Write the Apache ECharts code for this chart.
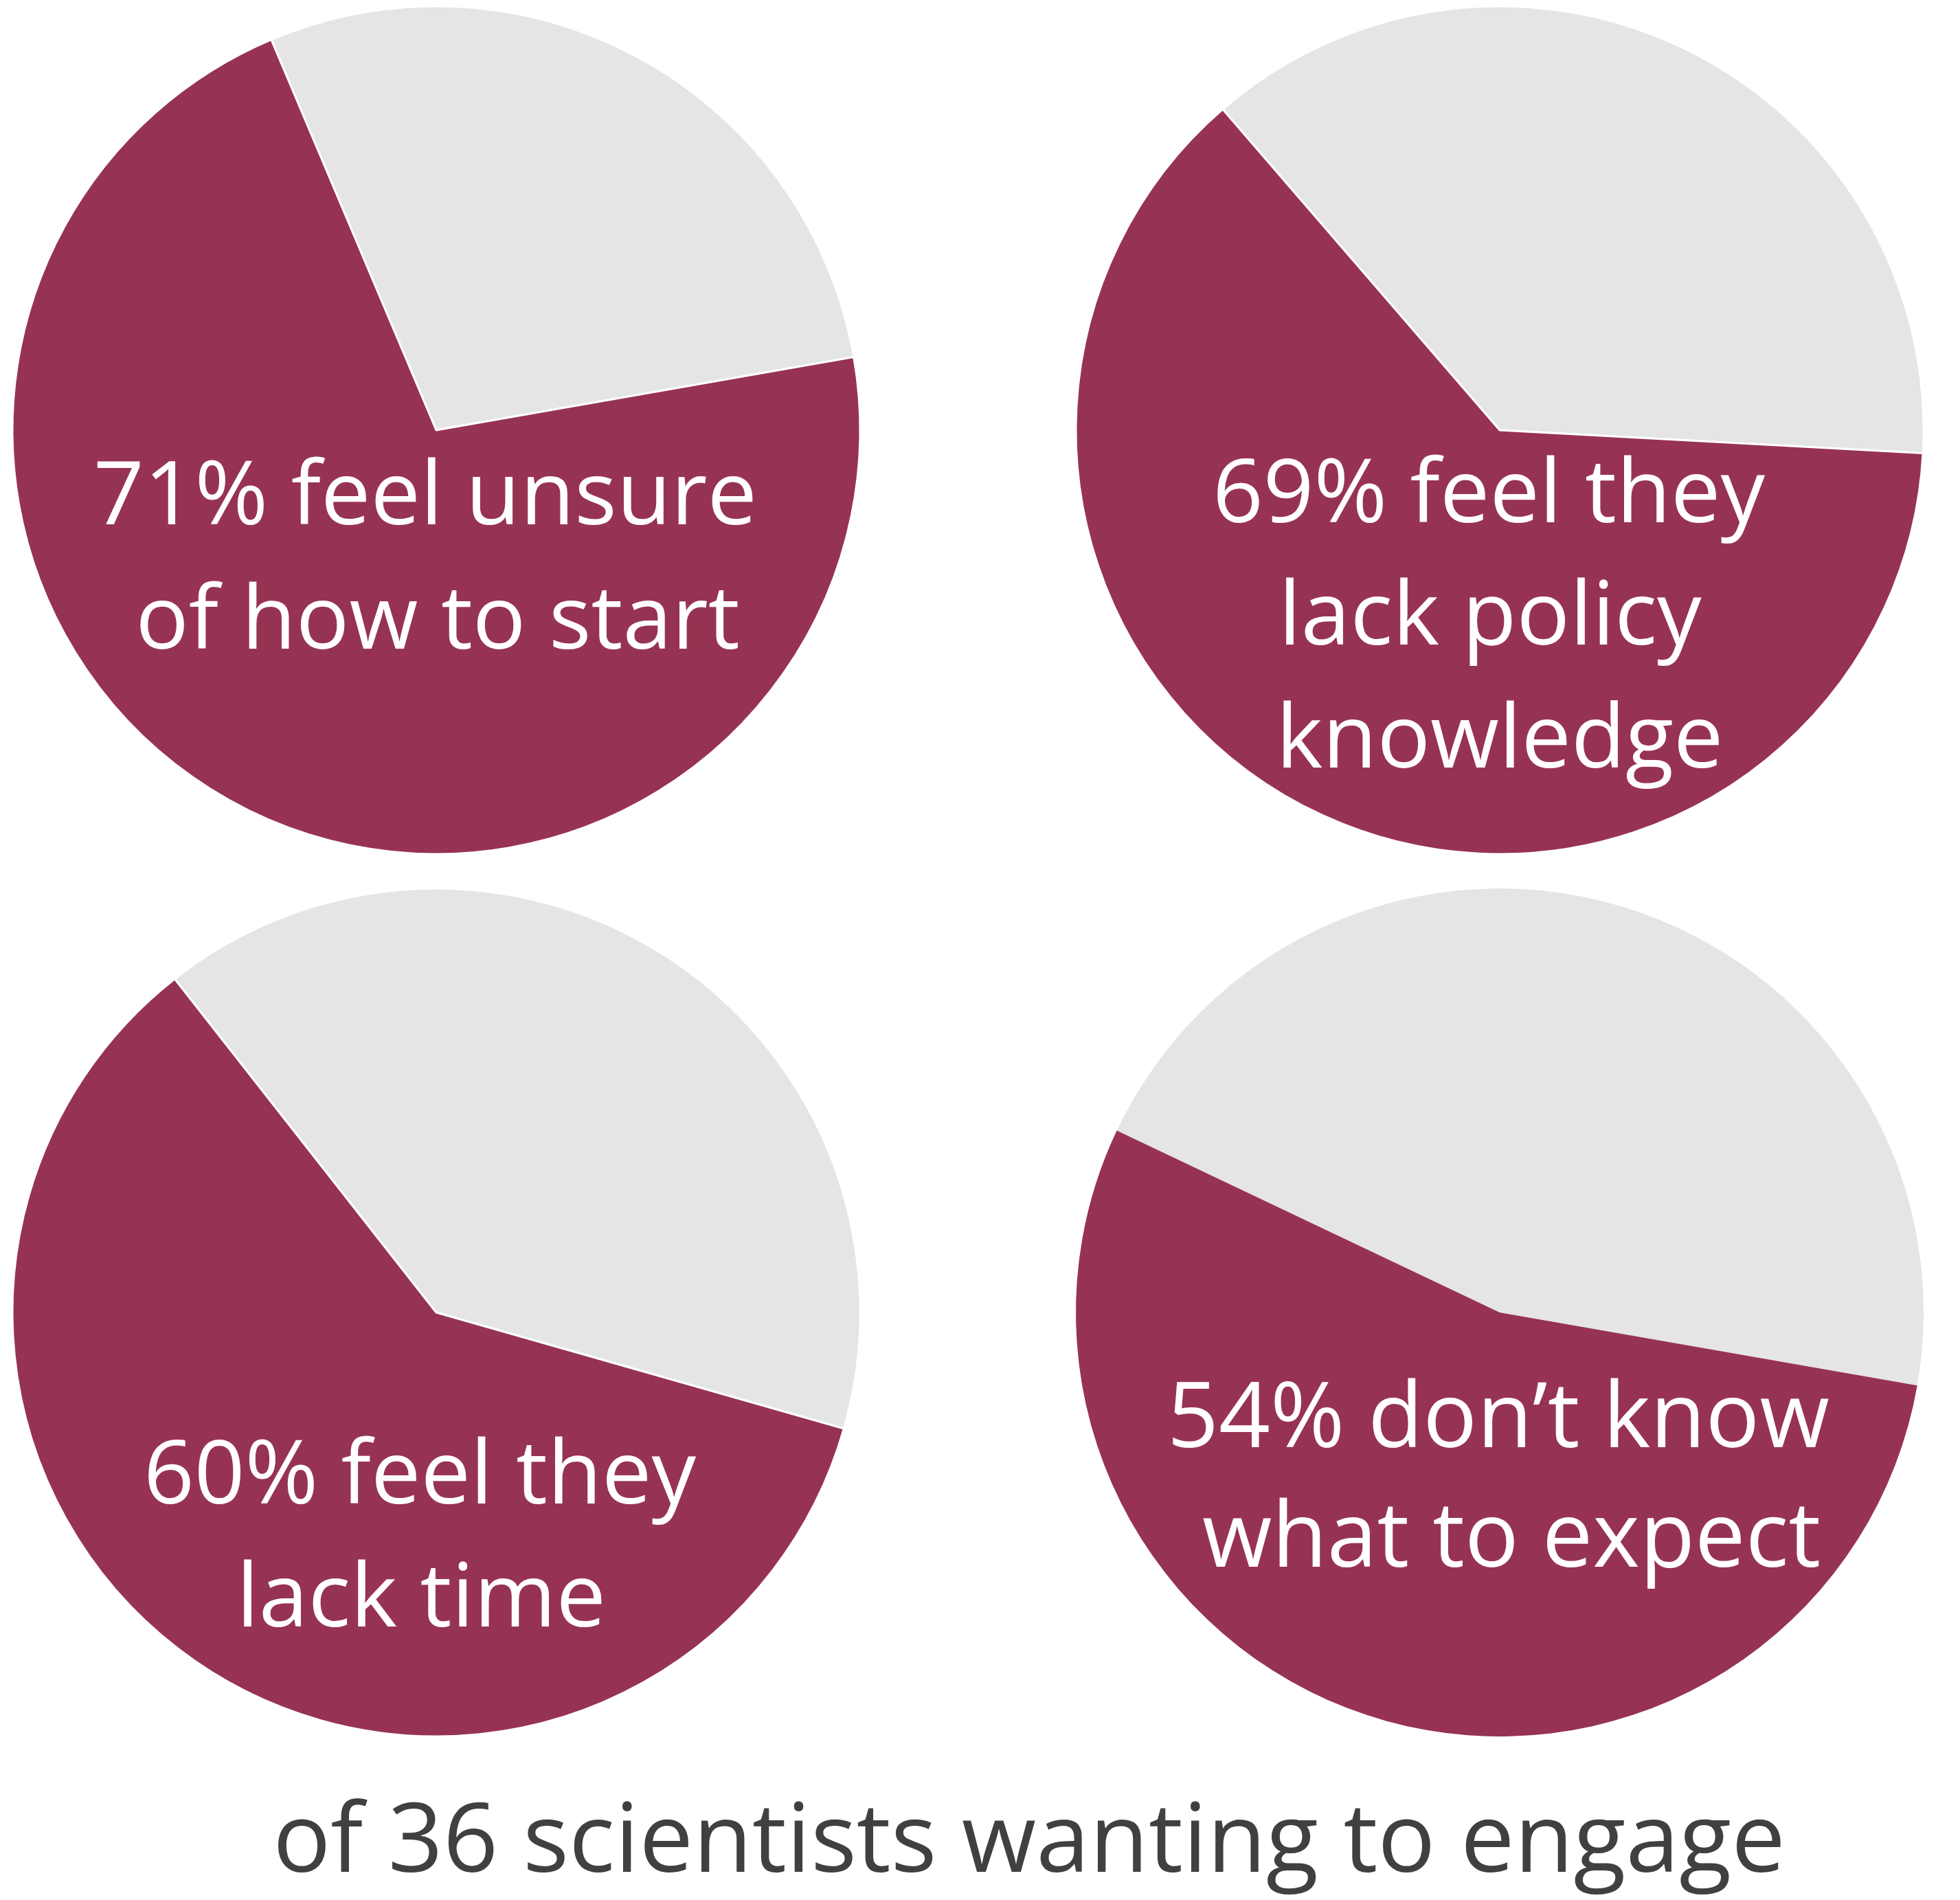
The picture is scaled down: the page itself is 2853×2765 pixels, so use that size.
<!DOCTYPE html>
<html>
<head>
<meta charset="utf-8">
<style>
  html, body { margin: 0; padding: 0; background: #ffffff; }
  #chart { width: 2853px; height: 2765px; }
</style>
<script src="https://cdn.jsdelivr.net/npm/echarts@6/dist/echarts.min.js"></script>
</head>
<body>
<div id="chart"></div>
<script>
// ---- data ----
const categories = ['unsure how to start', 'lack policy knowledge', 'lack time', "don't know what to expect"];
const concernShare = [71.4, 62.8, 60.0, 54.3];   // maroon slice (% of respondents, as drawn)
const otherShare   = [28.6, 37.2, 40.0, 45.7];   // grey remainder
const labelLines = [
  ['71% feel unsure', 'of how to start'],
  ['69% feel they', 'lack policy', 'knowledge'],
  ['60% feel they', 'lack time'],
  ['54% don\u2019t know', 'what to expect']
];
const footnote = 'of 36 scientists wanting to engage';

// ---- layout / style ----
const MAROON = '#973352';
const GREY = '#E5E5E5';
const centers = [[635, 626], [2183, 626], [635, 1910], [2183, 1910]];
const startAngles = [112.9, 130.8, 128.1, 154.6];
const borderWidths = [3, 3, 3, 0];
const radius = 617;
const labelPos = [
  [[619, 726], [637, 907]],
  [[2167, 723], [2169, 901], [2183, 1080]],
  [[611, 2151], [613, 2330]],
  [[2181, 2069], [2200, 2243]]
];
const FONT = '"Open Sans", "Noto Sans", sans-serif';

const series = categories.map((c, i) => ({
  type: 'pie',
  name: c,
  center: centers[i],
  radius: radius,
  startAngle: startAngles[i],
  clockwise: true,
  silent: true,
  animation: false,
  label: { show: false },
  labelLine: { show: false },
  itemStyle: { borderColor: '#ffffff', borderWidth: borderWidths[i] },
  data: [
    { name: 'other', value: otherShare[i], itemStyle: { color: GREY } },
    { name: c, value: concernShare[i], itemStyle: { color: MAROON } }
  ]
}));

const graphics = [];
labelLines.forEach((lines, i) => {
  lines.forEach((t, j) => {
    graphics.push({
      type: 'text',
      x: labelPos[i][j][0],
      y: labelPos[i][j][1],
      z: 100,
      silent: true,
      style: {
        text: t,
        fill: '#ffffff',
        font: (i === 3 ? '131px ' : '129px ') + FONT,
        textAlign: 'center',
        textVerticalAlign: 'middle'
      }
    });
  });
});
graphics.push({
  type: 'text',
  x: 1498,
  y: 2684,
  z: 100,
  silent: true,
  style: {
    text: footnote,
    fill: '#404040',
    font: '140px ' + FONT,
    textAlign: 'center',
    textVerticalAlign: 'middle'
  }
});

const chart = echarts.init(document.getElementById('chart'), null, { renderer: 'canvas' });
chart.setOption({
  backgroundColor: '#ffffff',
  animation: false,
  series: series,
  graphic: { elements: graphics }
});
</script>
</body>
</html>
